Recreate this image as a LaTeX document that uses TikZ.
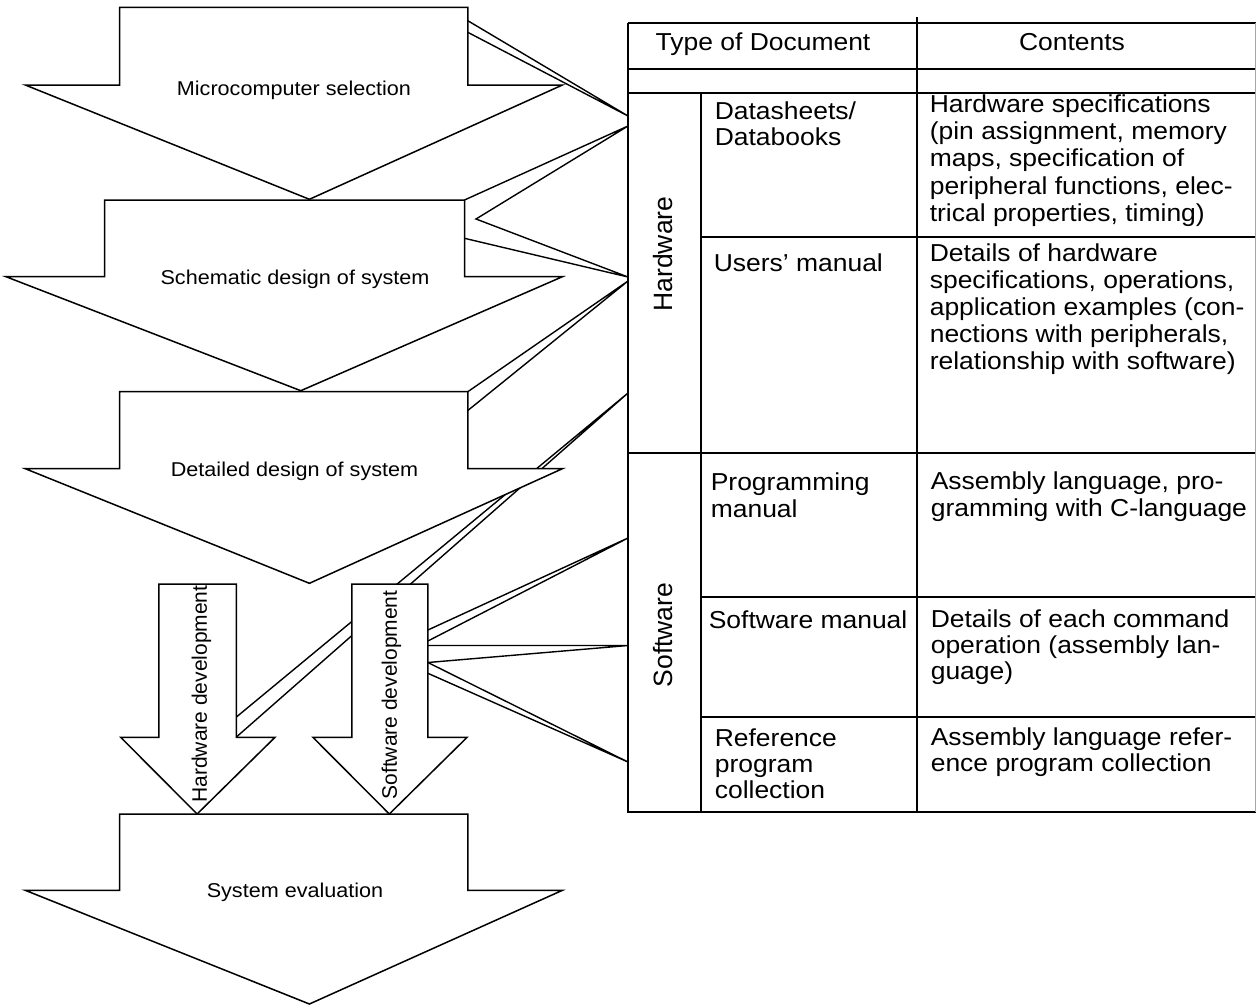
\documentclass[tikz,border=0pt]{standalone}
\usepackage{fontspec}
\setmainfont{Liberation Sans}
% stacked left-aligned lines whose baseline is the first line
\newcommand\cellstack[1]{\vtop{\halign{##\hfil\cr#1\crcr}}}
\begin{document}
\begin{tikzpicture}[x=1pt,y=-1pt,line width=1.5pt,
  flow/.style={draw=black,fill=white,line width=1.5pt},
  link/.style={draw=black,line width=1.4pt},
  rule/.style={draw=black,line width=1.5pt},
  flowlabel/.style={font=\fontsize{20}{24}\selectfont,inner sep=0pt,anchor=base,xscale=1.08},
  devlabel/.style={font=\fontsize{21}{25}\selectfont,inner sep=0pt,rotate=90},
  tabhead/.style={font=\fontsize{24.5}{27}\selectfont,inner sep=0pt,anchor=base,xscale=1.08},
  tabcat/.style={font=\fontsize{26.5}{28}\selectfont,inner sep=0pt,rotate=90},
  tabcell/.style={font=\fontsize{24.5}{#1}\selectfont,inner sep=0pt,anchor=base west,xscale=1.08},
  tabcell/.default=27]
\useasboundingbox (0,0) rectangle (1256,1005);

% ---- attachment points on the table's left edge
\coordinate (t1) at (628,116);
\coordinate (t2) at (628,126);
\coordinate (t3) at (628,277);
\coordinate (t4) at (628,281);
\coordinate (t5) at (628,393);
\coordinate (t6) at (628,538);
\coordinate (t7) at (628,645.5);
\coordinate (t8) at (628,762);

% ---- attachment points on the flow arrows
\coordinate (selA) at (467.8,20.7);
\coordinate (selB) at (467.8,32.3);
\coordinate (schA) at (464.5,200);
\coordinate (schV) at (476,219);
\coordinate (schB) at (464.5,238.3);
\coordinate (detA) at (467.8,391.7);
\coordinate (detB) at (467.8,410.5);
\coordinate (hwA) at (236.4,717);
\coordinate (hwB) at (236.4,737);
\coordinate (swA) at (427.9,630);
\coordinate (swB) at (427.9,641);
\coordinate (swC) at (427.9,645.5);
\coordinate (swD) at (427.9,662.5);
\coordinate (swE) at (427.9,673.3);

% ---- connectors (drawn first, the arrows cover them)
\draw[link] (selA) -- (t1) (selB) -- (t1);
\draw[link] (t2) -- (schA) (t2) -- (schV) -- (t3) (schB) -- (t3);
\draw[link] (t4) -- (detA) (t4) -- (detB);
\draw[link] (t5) -- (hwA) (t5) -- (hwB);
\draw[link] (t6) -- (swA) (t6) -- (swB);
\draw[link] (t7) -- (swC) (t7) -- (swD);
\draw[link] (t8) -- (swD) (t8) -- (swE);

% ---- flow arrows
\draw[flow] (119.6,7.3) -- (467.8,7.3) -- (467.8,85) -- (562.4,85) -- (309.4,199.3)
  -- (25.3,85) -- (119.6,85) -- cycle;
\draw[flow] (104.5,200) -- (464.5,200) -- (464.5,276.7) -- (562.4,276.7) -- (300.8,390.7)
  -- (6,276.7) -- (104.5,276.7) -- cycle;
\draw[flow] (119.6,391.7) -- (467.8,391.7) -- (467.8,468.7) -- (562.4,468.7) -- (309.4,583.3)
  -- (25.3,468.7) -- (119.6,468.7) -- cycle;
\draw[flow] (158.9,584) -- (236.4,584) -- (236.4,737.3) -- (275,737.3) -- (197.1,814)
  -- (120.7,737.3) -- (158.9,737.3) -- cycle;
\draw[flow] (351.8,584) -- (427.9,584) -- (427.9,737.3) -- (467.1,737.3) -- (389.3,814)
  -- (312.9,737.3) -- (351.8,737.3) -- cycle;
\draw[flow] (119.6,814) -- (467.8,814) -- (467.8,890.3) -- (562.4,890.3) -- (309.4,1004)
  -- (25.3,890.3) -- (119.6,890.3) -- cycle;

\node[flowlabel] (sel) at (294,95) {Microcomputer selection};
\node[flowlabel] (sch) at (295,284) {Schematic design of system};
\node[flowlabel] (det) at (294.5,476.5) {Detailed design of system};
\node[flowlabel] (eval) at (295,897) {System evaluation};
\node[devlabel] (hwdev) at (201.5,694) {Hardware development};
\node[devlabel] (swdev) at (391.5,695) {Software development};

% ---- document table
\draw[rule] (628,23) -- (1256,23);
\draw[rule] (628,23) -- (628,812) -- (1256,812);
\draw[rule] (628,69) -- (1256,69);
\draw[rule] (628,93) -- (1256,93);
\draw[rule] (701,93) -- (701,812);
\draw[rule] (917,17) -- (917,812);
\draw[rule] (701,237) -- (1256,237);
\draw[rule] (628,453) -- (1256,453);
\draw[rule] (701,597) -- (1256,597);
\draw[rule] (701,717) -- (1256,717);
\draw[draw=black!35,line width=1pt] (1255.5,23) -- (1255.5,812);

\node[tabhead] (typeHd) at (763,50) {Type of Document};
\node[tabhead] (contHd) at (1072,50) {Contents};
\node[tabcat] (hwcat) at (663,254) {Hardware};
\node[tabcat] (swcat) at (663,635) {Software};

\node[tabcell=26] (dsName) at (714,119) {\cellstack{Datasheets/\cr Databooks}};
\node[tabcell=27.2] (dsText) at (929,112.5) {\cellstack{Hardware specifications\cr
  (pin assignment, memory\cr maps, specification of\cr
  peripheral functions, elec-\cr trical properties, timing)}};
\node[tabcell] (umName) at (713,271) {Users’ manual};
\node[tabcell=27] (umText) at (929,261) {\cellstack{Details of hardware\cr
  specifications, operations,\cr application examples (con-\cr
  nections with peripherals,\cr relationship with software)}};
\node[tabcell=27] (pmName) at (710,490) {\cellstack{Programming\cr manual}};
\node[tabcell=26.5] (pmText) at (930,489.5) {\cellstack{Assembly language, pro-\cr
  gramming with C-language}};
\node[tabcell] (smName) at (708,628) {Software manual};
\node[tabcell=26] (smText) at (930,627) {\cellstack{Details of each command\cr
  operation (assembly lan-\cr guage)}};
\node[tabcell=26.3] (rpName) at (714,746) {\cellstack{Reference\cr program\cr collection}};
\node[tabcell=26.3] (rpText) at (930,745.5) {\cellstack{Assembly language refer-\cr
  ence program collection}};
\end{tikzpicture}
\end{document}
